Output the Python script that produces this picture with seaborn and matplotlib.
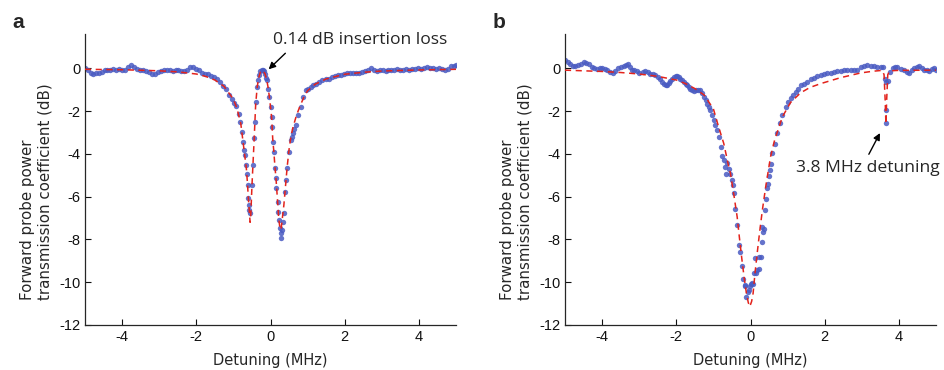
import numpy as np
import pandas as pd
import seaborn as sns
import matplotlib.pyplot as plt

# panel a: measured transmission (dots) and fit (dashed)
a_x = [-5.00, -4.93, -4.85, -4.78, -4.70, -4.62, -4.55, -4.47, -4.40, -4.32, -4.24, -4.16, -4.08, -4.00,
       -3.92, -3.84, -3.76, -3.68, -3.60, -3.52, -3.44, -3.36, -3.28, -3.20, -3.12, -3.04, -2.96, -2.88,
       -2.80, -2.72, -2.64, -2.56, -2.48, -2.40, -2.32, -2.24, -2.16, -2.08, -2.00, -1.92, -1.84, -1.76,
       -1.68, -1.60, -1.52, -1.44, -1.36, -1.28, -1.20, -1.12, -1.04, -0.98, -0.92, -0.86, -0.81, -0.78,
       -0.75, -0.72, -0.69, -0.66, -0.63, -0.61, -0.60, -0.58, -0.57, -0.55, -0.50, -0.47, -0.44, -0.42,
       -0.40, -0.36, -0.33, -0.30, -0.27, -0.23, -0.20, -0.17, -0.14, -0.11, -0.09, -0.06, -0.03, 0.00,
       0.03, 0.04, 0.06, 0.09, 0.12, 0.14, 0.16, 0.19, 0.21, 0.22, 0.25, 0.27, 0.29, 0.32, 0.34, 0.36,
       0.39, 0.42, 0.45, 0.50, 0.54, 0.57, 0.60, 0.64, 0.68, 0.75, 0.81, 0.87, 0.95, 1.01, 1.08, 1.15,
       1.22, 1.30, 1.40, 1.50, 1.58, 1.66, 1.74, 1.82, 1.90, 1.98, 2.06, 2.14, 2.22, 2.30, 2.38, 2.46,
       2.54, 2.62, 2.70, 2.78, 2.86, 2.94, 3.02, 3.10, 3.18, 3.26, 3.34, 3.42, 3.50, 3.58, 3.66, 3.74,
       3.82, 3.90, 3.98, 4.06, 4.14, 4.22, 4.30, 4.38, 4.46, 4.54, 4.62, 4.70, 4.78, 4.86, 4.94, 5.00]
a_y = [0.00, -0.10, -0.22, -0.25, -0.21, -0.20, -0.17, -0.07, -0.10, -0.09, -0.05, -0.07, -0.04, -0.08,
       -0.06, 0.05, 0.14, 0.04, -0.05, -0.09, -0.10, -0.14, -0.19, -0.27, -0.25, -0.17, -0.11, -0.07,
       -0.08, -0.10, -0.12, -0.07, -0.10, -0.11, -0.15, -0.08, 0.05, 0.07, -0.02, -0.08, -0.20, -0.27,
       -0.28, -0.34, -0.40, -0.50, -0.66, -0.82, -0.98, -1.25, -1.42, -1.62, -1.78, -2.12, -2.50, -3.00,
       -3.44, -3.80, -4.06, -4.53, -4.92, -5.46, -6.08, -6.40, -6.63, -6.75, -5.46, -4.53, -3.28, -2.50,
       -1.57, -0.87, -0.56, -0.30, -0.14, -0.08, -0.09, -0.15, -0.25, -0.45, -0.56, -0.95, -1.34, -1.80,
       -2.27, -2.74, -3.44, -3.90, -4.68, -5.15, -5.62, -6.24, -6.71, -7.10, -7.48, -7.70, -7.95, -7.56,
       -7.20, -6.78, -5.77, -5.23, -4.68, -3.90, -3.36, -3.20, -3.05, -2.85, -2.66, -2.19, -1.80, -1.34,
       -1.03, -0.95, -0.87, -0.80, -0.72, -0.62, -0.56, -0.50, -0.48, -0.42, -0.36, -0.33, -0.30, -0.26,
       -0.22, -0.21, -0.24, -0.20, -0.22, -0.18, -0.13, -0.06, -0.01, -0.08, -0.12, -0.10, -0.08, -0.12,
       -0.10, -0.07, -0.08, -0.05, -0.09, -0.07, -0.05, -0.06, -0.03, -0.04, -0.01, -0.03, 0.02, 0.06,
       0.03, 0.00, -0.02, 0.00, -0.03, -0.06, -0.02, 0.11, 0.12, 0.14]
a_fit_x = [-5.0, -4.0, -3.0, -2.5, -2.0, -1.75, -1.5, -1.25, -1.0, -0.9, -0.8, -0.75, -0.7, -0.65,
           -0.62, -0.6, -0.57, -0.55, -0.53, -0.5, -0.47, -0.44, -0.42, -0.4, -0.36, -0.32, -0.27, -0.21,
           -0.15, -0.1, -0.06, -0.03, 0.0, 0.03, 0.06, 0.09, 0.12, 0.15, 0.19, 0.22, 0.26, 0.29, 0.32,
           0.36, 0.4, 0.45, 0.5, 0.55, 0.6, 0.7, 0.8, 0.9, 1.0, 1.2, 1.5, 2.0, 2.5, 3.0, 4.0, 5.0]
a_fit_y = [-0.05, -0.07, -0.12, -0.17, -0.27, -0.38, -0.55, -0.85, -1.45, -1.9, -2.6, -3.3, -4.0, -4.7,
           -5.4, -6.0, -6.7, -7.2, -6.8, -5.5, -4.4, -3.3, -2.5, -1.7, -0.9, -0.45, -0.17, -0.1,
           -0.25, -0.55, -0.95, -1.35, -1.8, -2.3, -3.3, -3.9, -4.6, -5.2, -6.2, -7.0, -7.55, -7.45, -7.0,
           -6.4, -5.6, -4.6, -3.8, -3.2, -2.8, -2.2, -1.75, -1.35, -1.05, -0.75, -0.5, -0.28, -0.19, -0.13,
           -0.08, -0.05]

# panel b
b_x = [-5.00, -4.93, -4.86, -4.79, -4.72, -4.64, -4.57, -4.50, -4.43, -4.36, -4.28, -4.21, -4.14, -4.07,
       -4.00, -3.93, -3.86, -3.78, -3.71, -3.64, -3.56, -3.49, -3.42, -3.36, -3.31, -3.25, -3.20, -3.13,
       -3.06, -3.00, -2.90, -2.84, -2.77, -2.70, -2.63, -2.57, -2.50, -2.43, -2.38, -2.34, -2.29, -2.25,
       -2.20, -2.16, -2.11, -2.07, -2.02, -1.98, -1.93, -1.89, -1.84, -1.80, -1.75, -1.71, -1.66, -1.62,
       -1.58, -1.53, -1.47, -1.41, -1.35, -1.30, -1.26, -1.21, -1.17, -1.12, -1.08, -1.03, -0.99, -0.95,
       -0.90, -0.86, -0.80, -0.76, -0.72, -0.68, -0.65, -0.63, -0.59, -0.54, -0.50, -0.47, -0.45, -0.41,
       -0.36, -0.32, -0.27, -0.24, -0.20, -0.16, -0.14, -0.11, -0.08, -0.05, -0.01, 0.02, 0.05, 0.07,
       0.09, 0.11, 0.14, 0.18, 0.22, 0.23, 0.27, 0.30, 0.32, 0.34, 0.36, 0.39, 0.42, 0.45, 0.48, 0.50,
       0.52, 0.56, 0.59, 0.65, 0.72, 0.79, 0.86, 0.95, 1.01, 1.08, 1.15, 1.22, 1.28, 1.35, 1.44, 1.53,
       1.62, 1.71, 1.80, 1.89, 1.98, 2.07, 2.16, 2.25, 2.34, 2.43, 2.52, 2.61, 2.70, 2.79, 2.88, 2.97,
       3.06, 3.15, 3.24, 3.33, 3.42, 3.51, 3.58, 3.62, 3.64, 3.65, 3.66, 3.71, 3.77, 3.83, 3.90, 3.96,
       4.05, 4.14, 4.21, 4.28, 4.35, 4.41, 4.48, 4.55, 4.62, 4.68, 4.75, 4.82, 4.88, 4.94, 5.00]
b_y = [0.37, 0.30, 0.20, 0.10, 0.12, 0.14, 0.22, 0.30, 0.26, 0.18, 0.06, 0.02, -0.02, 0.00,
       0.03, -0.02, -0.06, -0.17, -0.23, -0.12, 0.03, 0.06, 0.09, 0.15, 0.22, 0.05, -0.06, -0.09,
       -0.12, -0.22, -0.16, -0.12, -0.19, -0.25, -0.29, -0.33, -0.40, -0.48, -0.62, -0.72, -0.78, -0.79,
       -0.68, -0.59, -0.48, -0.40, -0.38, -0.37, -0.42, -0.48, -0.56, -0.64, -0.72, -0.79, -0.88, -0.95,
       -1.03, -1.05, -1.03, -1.00, -1.03, -1.18, -1.34, -1.50, -1.65, -1.80, -1.96, -2.20, -2.43, -2.65,
       -2.90, -3.20, -3.70, -4.10, -4.30, -4.60, -4.92, -4.45, -4.70, -4.92, -5.23, -5.46, -5.85, -6.60,
       -7.33, -8.26, -8.60, -9.24, -9.86, -10.13, -10.20, -10.68, -10.45, -10.36, -10.20, -10.10, -10.05, -10.10,
       -9.58, -8.88, -9.58, -9.43, -8.81, -9.40, -8.81, -8.10, -7.40, -7.65, -7.50, -6.63, -6.13, -5.62, -5.41, -5.04,
       -4.76, -4.48, -3.98, -3.52, -3.05, -2.58, -2.19, -1.80, -1.60, -1.41, -1.25, -1.10, -0.98, -0.80, -0.72, -0.62,
       -0.50, -0.45, -0.38, -0.31, -0.28, -0.24, -0.22, -0.16, -0.12, -0.12, -0.10, -0.09, -0.09, -0.06, -0.06, 0.06,
       0.10, 0.14, 0.10, 0.09, 0.07, 0.06, 0.07, -0.48, -0.64, -1.96, -2.55, -0.59, -0.17, 0.03, 0.05, 0.06,
       -0.02, -0.09, -0.18, -0.22, -0.10, -0.01, 0.05, 0.09, 0.02, -0.06, -0.10, -0.12, -0.05, -0.01, -0.08]
b_fit_x = [-5.0, -4.5, -4.0, -3.5, -3.0, -2.5, -2.0, -1.75, -1.5, -1.25, -1.0, -0.86, -0.72, -0.6,
           -0.54, -0.45, -0.36, -0.3, -0.23, -0.17, -0.11, -0.06, -0.02, 0.03, 0.07, 0.12, 0.18, 0.25,
           0.32, 0.41, 0.54, 0.65, 0.86, 1.08, 1.35, 1.6, 1.89, 2.43, 2.97, 3.3, 3.55, 3.6, 3.63, 3.65,
           3.67, 3.7, 3.75, 4.0, 5.0]
b_fit_y = [-0.09, -0.12, -0.15, -0.2, -0.27, -0.38, -0.55, -0.72, -0.95, -1.25, -1.9, -2.74, -3.52, -4.5,
           -4.92, -5.9, -6.94, -7.9, -8.96, -9.8, -10.52, -10.95, -11.14, -10.9, -10.52, -9.6, -8.65, -7.6,
           -6.63, -5.54, -4.14, -3.36, -2.27, -1.6, -1.15, -0.9, -0.72, -0.44, -0.22, -0.14, -0.1, -0.3,
           -1.5, -2.6, -1.5, -0.3, -0.12, -0.1, -0.09]

sns.set_style('ticks')
plt.rcParams['font.family'] = ['Liberation Sans', 'DejaVu Sans']
plt.rcParams['axes.unicode_minus'] = False

fig = plt.figure(figsize=(9.44, 3.70), dpi=100)
ax_a = fig.add_axes([85 / 944, 1 - 325 / 370, 371 / 944, 291 / 370])
ax_b = fig.add_axes([565 / 944, 1 - 325 / 370, 371 / 944, 291 / 370])

panels = [(ax_a, a_x, a_y, a_fit_x, a_fit_y), (ax_b, b_x, b_y, b_fit_x, b_fit_y)]
for ax, x, y, fx, fy in panels:
    dots = pd.DataFrame({'detuning': x, 'trans': y})
    fit = pd.DataFrame({'detuning': fx, 'trans': fy})
    sns.scatterplot(data=dots, x='detuning', y='trans', ax=ax, s=15, color='#4a5bc2',
                    alpha=0.85, linewidth=0, zorder=2)
    sns.lineplot(data=fit, x='detuning', y='trans', ax=ax, color='#e3231c', lw=1.1,
                 estimator=None, sort=False, zorder=3, dashes=False, linestyle=(0, (4, 3)))
    ax.set_xlim(-5, 5)
    ax.set_ylim(-12, 1.6)
    ax.set_xticks([-4, -2, 0, 2, 4])
    ax.set_yticks([0, -2, -4, -6, -8, -10, -12])
    ax.tick_params(direction='in', length=4, width=0.8, labelsize=10.5, colors='#111111')
    ax.set_xlabel('Detuning (MHz)', fontsize=10.5, family='DejaVu Sans')
    ax.xaxis.set_label_coords(0.5, -0.095)
    ax.set_ylabel('Forward probe power\ntransmission coefficient (dB)', fontsize=10.8,
                  family='DejaVu Sans', linespacing=1.25, multialignment='left')
    ax.yaxis.set_label_coords(-0.087, 0.457)
    for side in ['left', 'bottom']:
        ax.spines[side].set_linewidth(0.9)
    sns.despine(ax=ax)

arrow = dict(arrowstyle='-|>', color='black', lw=1.0, mutation_scale=10, shrinkA=0, shrinkB=0)
ax_a.annotate('', xy=(-0.05, -0.05), xytext=(0.4, 0.7), arrowprops=arrow)
ax_a.text(0.08, 1.3, '0.14 dB insertion loss', fontsize=12.6, family='Open Sans',
          ha='left', va='center')
ax_b.annotate('', xy=(3.49, -3.03), xytext=(3.19, -4.02), arrowprops=arrow)
ax_b.text(1.22, -4.67, '3.8 MHz detuning', fontsize=12.6, family='Open Sans',
          ha='left', va='center')

fig.text(12 / 944, 1 - 22 / 370, 'a', fontsize=15, fontweight='bold', va='center', ha='left')
fig.text(493 / 944, 1 - 22 / 370, 'b', fontsize=15, fontweight='bold', va='center', ha='left')

fig.savefig('out.png', dpi=100)
